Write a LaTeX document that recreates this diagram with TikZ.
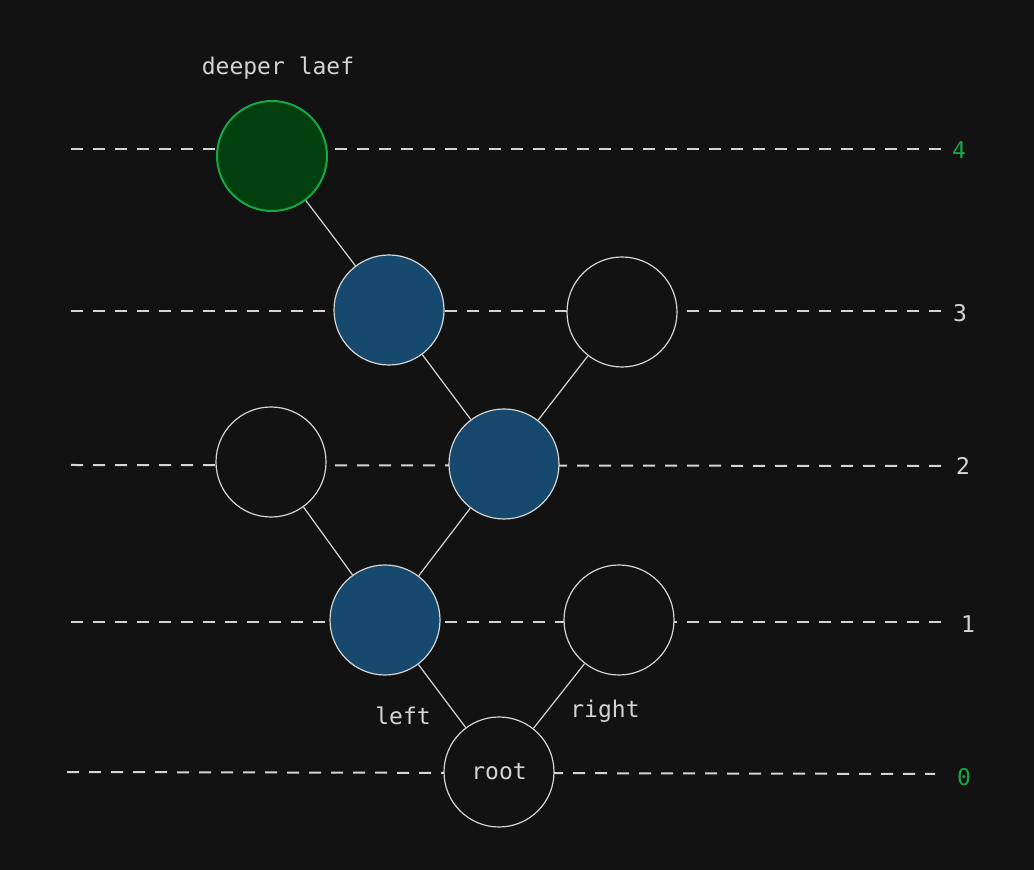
\documentclass[tikz,border=0pt]{standalone}
\usepackage{fontspec}
\setmonofont{DejaVu Sans Mono}
\definecolor{bgdark}{HTML}{121212}
\definecolor{inkgrey}{HTML}{D4D4D4}
\definecolor{leafgreen}{HTML}{02400F}
\definecolor{leafedge}{HTML}{14A84A}
\definecolor{pathblue}{HTML}{17496E}

\begin{document}
\begin{tikzpicture}[
      x=0.5pt, y=-0.5pt,
      every path/.style={line width=.6pt},
      every node/.style={font=\ttfamily\fontsize{11.5}{13}\selectfont, text=inkgrey},
      level/.style={draw=inkgrey, line width=1pt, dash pattern=on 6pt off 5pt},
      treenode/.style={circle, draw=inkgrey, fill=bgdark, minimum size=55pt, inner sep=0pt},
      onpath/.style={treenode, fill=pathblue},
      leafnode/.style={treenode, draw=leafedge, fill=leafgreen, line width=1pt},
      edge/.style={draw=inkgrey}
    ]
    \fill[bgdark] (0,0) rectangle (1034,870);
    \useasboundingbox (0,0) rectangle (1034,870);

    % depth guides
    \coordinate (g4a) at (71,149);  \coordinate (g4b) at (942,149);
    \coordinate (g3a) at (71,311);  \coordinate (g3b) at (942,311);
    \coordinate (g2a) at (71,465);  \coordinate (g2b) at (942,466);
    \coordinate (g1a) at (71,622);  \coordinate (g1b) at (942,622);
    \coordinate (g0a) at (67,772);  \coordinate (g0b) at (935,774);
    \foreach \d in {0,...,4}
        \draw[level] (g\d a) -- (g\d b);

    \node[text=leafedge] (lvl4) at (959,150) {4};
    \node (lvl3) at (960,313) {3};
    \node (lvl2) at (963,466) {2};
    \node (lvl1) at (968,624) {1};
    \node[text=leafedge] (lvl0) at (964,777) {0};

    % tree
    \node[leafnode] (leaf) at (272,156) {};
    \node[onpath] (n3l) at (389,310) {};
    \node[treenode] (n3r) at (622,312) {};
    \node[treenode] (n2l) at (271,462) {};
    \node[onpath] (n2m) at (504,464) {};
    \node[onpath] (n1l) at (385,620) {};
    \node[treenode] (n1r) at (619,620) {};
    \node[treenode] (root) at (499,772) {root};

    \draw[edge] (leaf) -- (n3l);
    \draw[edge] (n3l) -- (n2m);
    \draw[edge] (n2m) -- (n3r);
    \draw[edge] (n2l) -- (n1l);
    \draw[edge] (n1l) -- (n2m);
    \draw[edge] (root) -- (n1l);
    \draw[edge] (root) -- (n1r);

    \node (deep) at (278,68) {deeper laef};
    \node (lbl-left) at (403,716) {left};
    \node (lbl-right) at (605,711) {right};

\end{tikzpicture}
\end{document}
